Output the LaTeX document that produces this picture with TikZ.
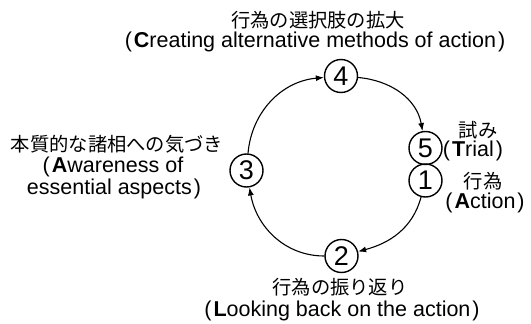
\documentclass[tikz,border=0pt]{standalone}
\usepackage{fontspec}
\setmainfont{Liberation Sans}
\newfontfamily\jp{Noto Sans CJK JP}
\newcommand{\lp}{(\kern2pt}
\newcommand{\rp}{\kern2pt)}
\usetikzlibrary{arrows.meta}
\tikzset{
  num/.style={circle,draw,line width=1.4pt,minimum size=33pt,inner sep=0pt,font=\fontsize{27}{27}\selectfont},
  arr/.style={line width=1.1pt,-{Latex[length=8pt,width=6pt]}},
  lbl/.style={inner sep=0pt,font=\fontsize{21.5}{21.5}\selectfont},
  jlbl/.style={inner sep=0pt,font=\fontsize{19.3}{19.3}\selectfont\jp},
}
\begin{document}
\begin{tikzpicture}[x=1pt,y=-1pt]
\useasboundingbox (0,0) rectangle (531,324);
\node[num] (n4) at (341,76) {4};
\node[num] (n3) at (246.5,170.5) {3};
\node[num] (n2) at (341.5,256) {2};
\node[num] (n5) at (425.5,148) {5};
\node[num] (n1) at (425.5,180.5) {1};

\draw[arr] (n3) to[out=85,in=185] (n4);
\draw[arr] (n4) to[out=-5,in=100] (n5);
\draw[arr] (n1) to[out=-105,in=15] (n2);
\draw[arr] (n2) to[out=180,in=-80] (n3);

\node[jlbl] (t1) at (318,20) {行為の選択肢の拡大};
\node[lbl] (t2) at (315,42) {\lp\textbf{C}reating alternative methods of action\rp};
\node[jlbl] (l1) at (117,144) {本質的な諸相への気づき};
\node[lbl] (l2) at (113,167) {\lp\textbf{A}wareness of};
\node[lbl] (l3) at (114,189) {essential aspects\rp};
\node[jlbl] (r1) at (478,130) {試み};
\node[lbl] (r2) at (473,151) {\lp\textbf{T}rial\rp};
\node[jlbl] (r3) at (483,181) {行為};
\node[lbl] (r4) at (485,203) {\lp\textbf{A}ction\rp};
\node[jlbl] (b1) at (340,287) {行為の振り返り};
\node[lbl] (b2) at (342,311) {\lp\textbf{L}ooking back on the action\rp};
\end{tikzpicture}
\end{document}
